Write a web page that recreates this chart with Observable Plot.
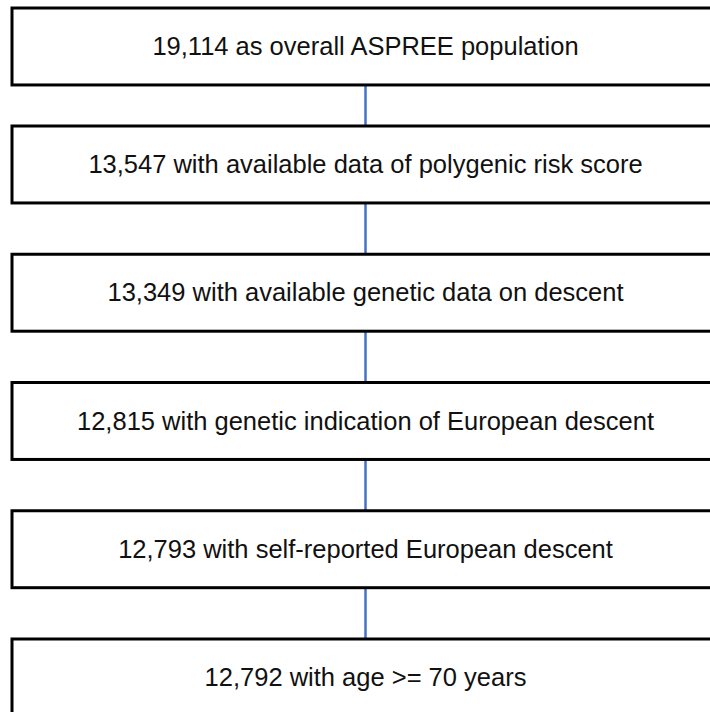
<!DOCTYPE html>
<html>
<head>
<meta charset="utf-8">
<script src="https://cdn.jsdelivr.net/npm/d3@7"></script>
<script src="https://cdn.jsdelivr.net/npm/@observablehq/plot@0.6"></script>
<style>
  html, body { margin: 0; padding: 0; background: #fff; }
  #chart svg { display: block; }
</style>
</head>
<body>
<div id="chart"></div>
<script>
// Flowchart steps (top to bottom)
const counts = ["19,114", "13,547", "13,349", "12,815", "12,793", "12,792"];
const descriptions = [
  "as overall ASPREE population",
  "with available data of polygenic risk score",
  "with available genetic data on descent",
  "with genetic indication of European descent",
  "with self-reported European descent",
  "with age >= 70 years"
];
const steps = counts.map((c, i) => ({step: i, label: `${c} ${descriptions[i]}`}));
const links = steps.slice(0, -1).map((d, i) => ({from: i, to: i + 1}));

// layout constants (box height as fraction of row pitch; first gap is shorter)
const boxFrac = 0.6;
const firstShift = 0.08;
const layoutY = v => {
  if (v >= 1) return v;
  if (v <= boxFrac) return v + firstShift;
  return (boxFrac + firstShift) + (v - boxFrac) * (1 - boxFrac - firstShift) / (1 - boxFrac);
};

const chart = Plot.plot({
  width: 710,
  height: 712,
  margin: 0,
  x: {domain: [0, 1], range: [12, 718], axis: null},
  y: {transform: layoutY, domain: [0, 5], range: [-2.25, 639], axis: null},
  marks: [
    Plot.link(links, {
      x1: 0.5, x2: 0.5,
      y1: d => d.from + boxFrac, y2: d => d.to,
      stroke: "#4472C4", strokeWidth: 2.5
    }),
    Plot.rect(steps, {
      x1: 0, x2: 1,
      y1: d => d.step, y2: d => d.step + boxFrac,
      fill: "white", stroke: "#000", strokeWidth: 3
    }),
    Plot.text(steps, {
      x: 0.5, y: d => d.step + boxFrac / 2,
      text: "label",
      fontSize: 25.5,
      fontFamily: "Liberation Sans, Arial, Helvetica, sans-serif",
      fill: "#111"
    })
  ]
});
document.getElementById("chart").appendChild(chart);
</script>
</body>
</html>
